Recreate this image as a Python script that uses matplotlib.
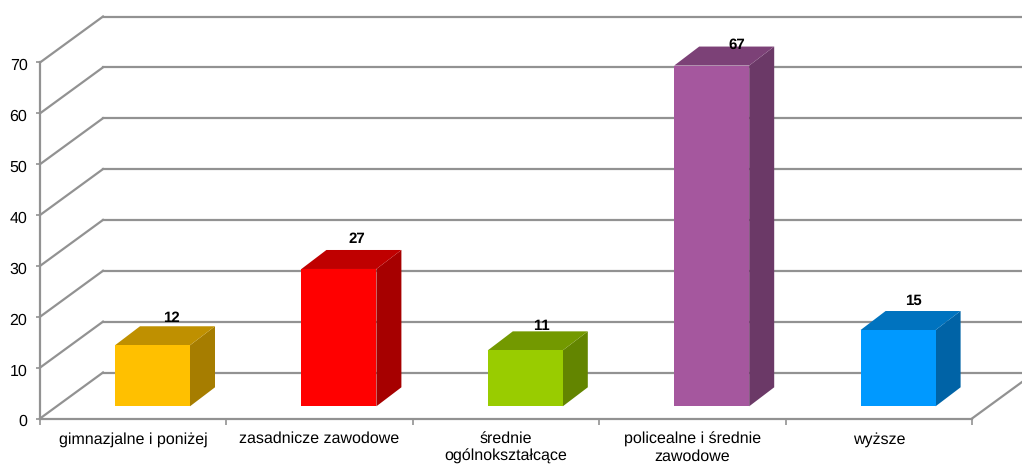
import matplotlib
matplotlib.use('Agg')
import matplotlib.pyplot as plt
from matplotlib.patches import Polygon
from matplotlib.colors import to_rgb
from matplotlib.transforms import ScaledTranslation

# dane
categories = ['gimnazjalne i poniżej', 'zasadnicze zawodowe', 'średnie\nogólnokształcące',
              'policealne i średnie\nzawodowe', 'wyższe']
values = [12, 27, 11, 67, 15]
colors = ['#FFC000', '#FF0000', '#99CC00', '#A5579E', '#0099FF']
y_ticks = [0, 10, 20, 30, 40, 50, 60, 70]

# wyglad
W, H = 1022, 465
GRID = '#929292'
DEPTH_X, DEPTH_Y = 63 / 186.4, 46 / 5.086   # glebokosc wykresu w jednostkach osi
BAR_W = 75 / 186.4
BAR_OFF_X, BAR_BASE = 75 / 186.4, 2.4       # przesuniecie slupka wzgledem kategorii
BAR_DX, BAR_DY = 25 / 186.4, 19 / 5.086     # glebokosc slupka
LABEL_OFF = [(19, 27), (18, 30), (16, 24), (25, 21), (15, 29)]  # ustawione recznie, px

plt.rcParams['font.family'] = ['Liberation Sans', 'DejaVu Sans']
plt.rcParams['text.hinting'] = 'no_hinting'
plt.rcParams['text.hinting_factor'] = 1

fig = plt.figure(figsize=(W / 100, H / 100), dpi=100)
ax = fig.add_axes([40 / W, (H - 418.5) / H, 932 / W, 356 / H])
ax.set_xlim(0, len(categories))
ax.set_ylim(0, 70)
ax.patch.set_visible(False)

# siatka: tylna sciana i przekatne
x_end = len(categories) + DEPTH_X
for v in y_ticks:
    ax.plot([DEPTH_X, x_end], [v + DEPTH_Y, v + DEPTH_Y], color=GRID, lw=1.6, clip_on=False, zorder=1)
    ax.plot([0, DEPTH_X], [v, v + DEPTH_Y], color=GRID, lw=1.6, clip_on=False, zorder=1)
ax.plot([len(categories), x_end], [0, DEPTH_Y], color=GRID, lw=1.6, clip_on=False, zorder=1)

# slupki 3D
for i, (val, col) in enumerate(zip(values, colors)):
    x0 = i + BAR_OFF_X
    x1 = x0 + BAR_W
    y0 = BAR_BASE
    y1 = y0 + val
    rgb = to_rgb(col)
    side = tuple(c * 0.65 for c in rgb)
    top = tuple(c * 0.75 for c in rgb)
    ax.add_patch(Polygon([(x1, y0), (x1 + BAR_DX, y0 + BAR_DY), (x1 + BAR_DX, y1 + BAR_DY), (x1, y1)],
                         facecolor=side, edgecolor='none', clip_on=False, zorder=3))
    ax.add_patch(Polygon([(x0, y1), (x1, y1), (x1 + BAR_DX, y1 + BAR_DY), (x0 + BAR_DX, y1 + BAR_DY)],
                         facecolor=top, edgecolor='none', clip_on=False, zorder=3))
    ax.add_patch(Polygon([(x0, y0), (x1, y0), (x1, y1), (x0, y1)],
                         facecolor=col, edgecolor='none', clip_on=False, zorder=4))
    ax.annotate(str(val), xy=((x0 + x1) / 2, y1), xytext=LABEL_OFF[i], textcoords='offset pixels',
                ha='center', va='center', fontsize=11, fontweight='bold', color='black',
                annotation_clip=False, zorder=5)

# osie
for s in ['top', 'right']:
    ax.spines[s].set_visible(False)
for s in ['left', 'bottom']:
    ax.spines[s].set_color(GRID)
    ax.spines[s].set_linewidth(1.6)
    ax.spines[s].set_zorder(2)

ax.set_yticks(y_ticks)
ax.tick_params(axis='y', length=3, width=1.2, color=GRID, labelsize=11.5, pad=6, labelcolor='black')
shift = ScaledTranslation(0, -2 / 100, fig.dpi_scale_trans)
for lab in ax.get_yticklabels():
    lab.set_transform(lab.get_transform() + shift)

ax.set_xticks(range(len(categories) + 1))
ax.set_xticklabels([])
ax.tick_params(axis='x', which='major', length=4, width=1.2, color=GRID)
ax.set_xticks([i + 0.5 for i in range(len(categories))], minor=True)
ax.set_xticklabels(categories, minor=True, fontsize=11.3, linespacing=1.2)
ax.tick_params(axis='x', which='minor', length=0, pad=9.5, labelcolor='black')

fig.savefig('out.png', dpi=100)
